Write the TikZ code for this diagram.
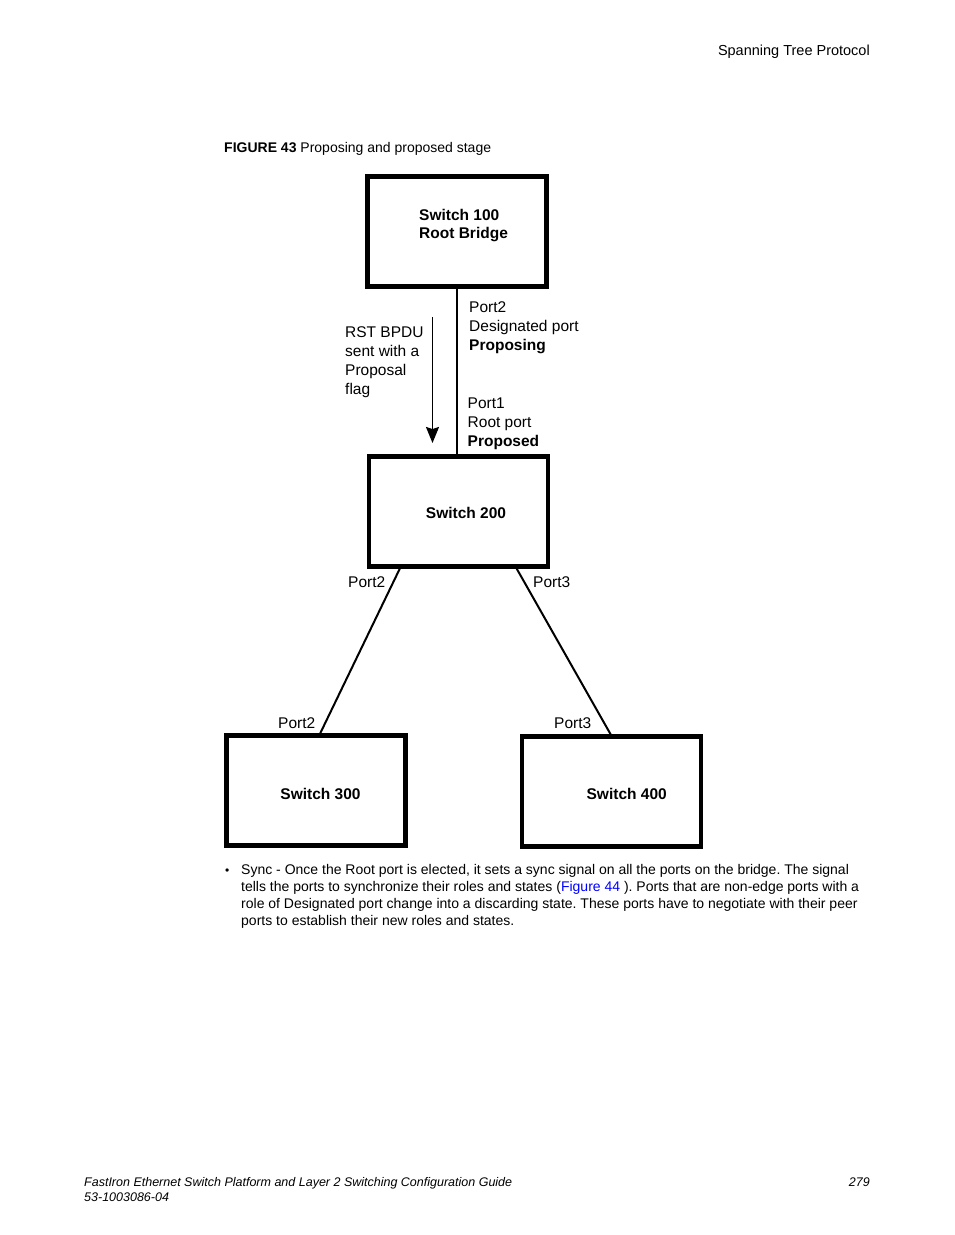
\documentclass[tikz,border=0pt]{standalone}
\usepackage{fontspec}
\setmainfont{Liberation Sans}
\usetikzlibrary{arrows.meta}
\definecolor{linkblue}{RGB}{0,0,255}
\frenchspacing
\begin{document}
\begin{tikzpicture}[x=1pt,y=-1pt,
  swbox/.style={draw, line width=4.5pt, minimum width=179pt, minimum height=110pt, inner sep=0pt},
  swtext/.style={inner sep=0pt, font=\fontsize{15.5}{18}\selectfont\bfseries, align=left},
  lbl/.style={inner sep=0pt, font=\fontsize{15.5}{19}\selectfont, align=left},
  link/.style={line width=2pt},
  body/.style={inner sep=0pt, anchor=base west, font=\fontsize{14}{16.85}\selectfont},
  foot/.style={inner sep=0pt, font=\fontsize{12.5}{15}\selectfont\itshape}
]
\fill[white] (0,0) rectangle (954,1235);
\useasboundingbox (0,0) rectangle (954,1235);

% header and caption
\node[inner sep=0pt, anchor=base east, font=\fontsize{14.5}{17}\selectfont] (hdr) at (870,55) {Spanning Tree Protocol};
\node[inner sep=0pt, anchor=base west, font=\fontsize{14}{17}\selectfont] (cap) at (224,152) {\textbf{FIGURE 43} Proposing and proposed stage};

% switches
\node[swbox] (s100) at (457,231.6) {};
\node[swbox] (s200) at (458.5,511.5) {};
\node[swbox] (s300) at (316,790.5) {};
\node[swbox] (s400) at (611.7,791.7) {};

\node[swtext, anchor=north west] (t100) at (419,209.3) {Switch 100\\Root Bridge};
\node[swtext, anchor=base] (t200) at (466,518.5) {Switch 200};
\node[swtext, anchor=base] (t300) at (320.5,799) {Switch 300};
\node[swtext, anchor=base] (t400) at (626.7,799) {Switch 400};

% links
\draw[link] (s100.south) -- (s100.south |- s200.north);
\draw[link] ([xshift=33pt]s200.south west) -- ([xshift=96pt]s300.north west);
\draw[link] ([xshift=-33.5pt]s200.south east) -- ([xshift=-1pt]s400.north);

% BPDU arrow
\coordinate (atop) at (432.5,317);
\coordinate (abot) at (432.5,443);
\draw[line width=1.5pt, -{Stealth[length=16pt,width=13pt,inset=2pt]}] (atop) -- (abot);

% labels
\node[lbl, anchor=north west] (l100) at (469,301.5) {Port2\\Designated port\\\textbf{Proposing}};
\node[lbl, anchor=north west] (lbpdu) at (345,326.8) {RST BPDU\\sent with a\\Proposal\\flag};
\node[lbl, anchor=north west] (l200) at (467.5,397.5) {Port1\\Root port\\\textbf{Proposed}};
\node[lbl, anchor=base west] (p2a) at (348,587) {Port2};
\node[lbl, anchor=base west] (p3a) at (533,587.5) {Port3};
\node[lbl, anchor=base west] (p2b) at (278,728) {Port2};
\node[lbl, anchor=base west] (p3b) at (554,728.5) {Port3};

% body text
\node[inner sep=0pt, anchor=base west, font=\fontsize{12}{12}\selectfont] (bul) at (225,874.5) {\textbullet};
\node[body] (b1) at (241,874.5) {Sync - Once the Root port is elected, it sets a sync signal on all the ports on the bridge. The signal};
\node[body] (b2) at (241,891.3) {tells the ports to synchronize their roles and states (\textcolor{linkblue}{Figure 44} ). Ports that are non-edge ports with a};
\node[body] (b3) at (241,908.2) {role of Designated port change into a discarding state. These ports have to negotiate with their peer};
\node[body] (b4) at (241,925) {ports to establish their new roles and states.};

% footer
\node[foot, anchor=base west] (f1) at (84,1186.5) {FastIron Ethernet Switch Platform and Layer 2 Switching Configuration Guide};
\node[foot, anchor=base west] (f2) at (84,1201.5) {53-1003086-04};
\node[foot, anchor=base east] (f3) at (870,1186.5) {279};
\end{tikzpicture}
\end{document}
